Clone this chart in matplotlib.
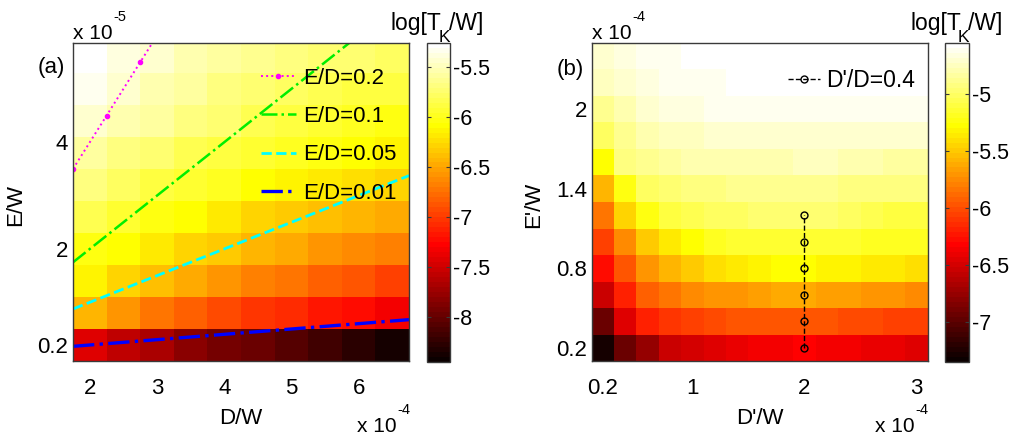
import numpy as np
import matplotlib.pyplot as plt

plt.rcParams['font.family'] = ['Liberation Sans', 'DejaVu Sans']

# ---- panel (a): D/W in units of 1e-4, E/W in units of 1e-5
d_a = [2.0, 2.5, 3.0, 3.5, 4.0, 4.5, 5.0, 5.5, 6.0, 6.5]
e_a = [0.2, 0.8, 1.4, 2.0, 2.6, 3.2, 3.8, 4.4, 5.0, 5.6]
# log[T_K/W], one row per E value (bottom to top)
logtk_a = [
    [-7.42, -7.58, -7.70, -7.82, -7.92, -8.00, -8.10, -8.20, -8.30, -8.38],
    [-6.45, -6.60, -6.72, -6.85, -6.95, -7.03, -7.10, -7.17, -7.25, -7.35],
    [-6.15, -6.27, -6.38, -6.48, -6.57, -6.66, -6.74, -6.82, -6.90, -6.97],
    [-6.05, -6.10, -6.18, -6.27, -6.35, -6.42, -6.50, -6.57, -6.63, -6.70],
    [-5.85, -5.95, -6.05, -6.10, -6.20, -6.27, -6.33, -6.38, -6.43, -6.48],
    [-5.70, -5.78, -5.86, -5.94, -6.00, -6.06, -6.12, -6.17, -6.22, -6.26],
    [-5.58, -5.66, -5.74, -5.82, -5.89, -5.95, -6.00, -6.05, -6.09, -6.12],
    [-5.45, -5.53, -5.60, -5.68, -5.75, -5.82, -5.88, -5.94, -5.99, -6.03],
    [-5.35, -5.45, -5.52, -5.60, -5.66, -5.72, -5.77, -5.82, -5.86, -5.90],
    [-5.26, -5.38, -5.45, -5.52, -5.58, -5.63, -5.67, -5.71, -5.74, -5.77],
]
clim_a = (-8.45, -5.26)
ratios = [0.2, 0.1, 0.05, 0.01]
d_line = [1.75, 2.25, 2.75, 3.25, 3.75, 4.25, 4.75, 5.25, 5.75, 6.25, 6.75]

# ---- panel (b): D'/W and E'/W in units of 1e-4
d_b = [0.2, 0.4, 0.6, 0.8, 1.0, 1.2, 1.4, 1.6, 1.8, 2.0, 2.2, 2.4, 2.6, 2.8, 3.0]
e_b = [0.2, 0.4, 0.6, 0.8, 1.0, 1.2, 1.4, 1.6, 1.8, 2.0, 2.2, 2.4]
logtk_b = [
    [-7.30, -6.94, -6.74, -6.56, -6.48, -6.45, -6.41, -6.38, -6.35, -6.34, -6.36, -6.38, -6.40, -6.42, -6.45],
    [-6.92, -6.45, -6.20, -6.10, -6.05, -6.00, -5.98, -5.96, -5.96, -5.96, -5.98, -6.00, -6.02, -6.04, -6.06],
    [-6.55, -6.17, -5.92, -5.82, -5.76, -5.72, -5.69, -5.66, -5.64, -5.63, -5.65, -5.67, -5.70, -5.72, -5.75],
    [-6.27, -5.95, -5.72, -5.58, -5.48, -5.42, -5.37, -5.33, -5.28, -5.27, -5.30, -5.33, -5.35, -5.38, -5.42],
    [-6.06, -5.75, -5.47, -5.35, -5.25, -5.20, -5.15, -5.13, -5.12, -5.12, -5.15, -5.15, -5.17, -5.18, -5.20],
    [-5.85, -5.45, -5.22, -5.10, -5.05, -5.02, -5.00, -4.98, -4.98, -4.98, -4.98, -5.03, -5.05, -5.08, -5.10],
    [-5.58, -5.22, -5.00, -4.95, -4.92, -4.90, -4.88, -4.86, -4.86, -4.86, -4.86, -4.90, -4.90, -4.90, -4.90],
    [-5.25, -4.93, -4.87, -4.83, -4.80, -4.78, -4.78, -4.77, -4.77, -4.76, -4.76, -4.78, -4.80, -4.82, -4.85],
    [-5.03, -4.88, -4.80, -4.76, -4.73, -4.70, -4.70, -4.70, -4.70, -4.70, -4.70, -4.70, -4.70, -4.71, -4.72],
    [-4.87, -4.78, -4.72, -4.68, -4.68, -4.62, -4.62, -4.62, -4.61, -4.61, -4.61, -4.60, -4.60, -4.60, -4.60],
    [-4.75, -4.70, -4.66, -4.60, -4.60, -4.60, -4.55, -4.55, -4.55, -4.55, -4.55, -4.55, -4.55, -4.55, -4.55],
    [-4.70, -4.68, -4.62, -4.62, -4.55, -4.55, -4.55, -4.55, -4.55, -4.55, -4.55, -4.55, -4.55, -4.55, -4.55],
]
clim_b = (-7.35, -4.55)
path_d = [2.0, 2.0, 2.0, 2.0, 2.0, 2.0]
path_e = [0.2, 0.4, 0.6, 0.8, 1.0, 1.2]

cmap = plt.get_cmap('hot', 64)
fs = 16
frame = '#3a3a3a'
W, H = 1014, 436

fig = plt.figure(figsize=(W / 100, H / 100), dpi=100)
ax_a = fig.add_axes([0.072, 0.172, 0.3314, 0.7294])
cax_a = fig.add_axes([0.4211, 0.170, 0.0227, 0.7317])
ax_b = fig.add_axes([0.5835, 0.172, 0.3314, 0.7294])
cax_b = fig.add_axes([0.932, 0.170, 0.0237, 0.7317])

mesh_a = ax_a.pcolormesh(d_a, e_a, np.array(logtk_a), cmap=cmap,
                         vmin=clim_a[0], vmax=clim_a[1], shading='nearest')
mesh_b = ax_b.pcolormesh(d_b, e_b, np.array(logtk_b), cmap=cmap,
                         vmin=clim_b[0], vmax=clim_b[1], shading='nearest')

# constant E/D lines
styles = [
    dict(color='#ff00ff', ls=':', lw=1.4, marker='.', ms=6),
    dict(color='#00ee00', ls='-.', lw=1.8),
    dict(color='#00ffff', ls='--', lw=2.0),
    dict(color='#0000ff', ls='-.', lw=2.4),
]
dl = np.array(d_line)
for r, st in zip(ratios, styles):
    ax_a.plot(dl, r * dl * 10, label=f'E/D={r:g}', **st)

ax_b.plot(path_d, path_e, color='k', ls='--', lw=1.0, marker='o', ms=5,
          mfc='none', mec='k', mew=1.0, label="D'/D=0.4")

ax_a.set_xlim(1.75, 6.75)
ax_a.set_ylim(-0.1, 5.86)
ax_a.set_xticks([2, 3, 4, 5, 6])
ax_a.set_xticklabels(['2', '3', '4', '5', '6'])
ax_a.set_yticks([0.2, 2, 4])
ax_a.set_yticklabels(['0.2', '2', '4'])

ax_b.set_xlim(0.1, 3.1)
ax_b.set_ylim(0.1, 2.5)
ax_b.set_xticks([0.2, 1, 2, 3])
ax_b.set_xticklabels(['0.2', '1', '2', '3'])
ax_b.set_yticks([0.2, 0.8, 1.4, 2])
ax_b.set_yticklabels(['0.2', '0.8', '1.4', '2'])

for ax in (ax_a, ax_b):
    ax.tick_params(axis='both', length=0, labelsize=fs)
    ax.tick_params(axis='x', pad=12)
    ax.tick_params(axis='y', pad=3.5)
    for lbl in ax.get_yticklabels():
        lbl.set_va('center_baseline')
    for sp in ax.spines.values():
        sp.set_color(frame)
        sp.set_linewidth(1.0)

ax_a.set_xlabel('D/W', fontsize=fs)
ax_a.set_ylabel('E/W', fontsize=fs)
ax_b.set_xlabel("D'/W", fontsize=fs)
ax_b.set_ylabel("E'/W", fontsize=fs)
for ax in (ax_a, ax_b):
    ax.xaxis.set_label_coords(0.5, -0.148)
    ax.yaxis.set_label_coords(-0.14, 0.49)

ax_a.legend(loc='upper right', bbox_to_anchor=(0.962, 0.922), frameon=False,
            fontsize=16, handlelength=1.6, handletextpad=0.3,
            labelspacing=0.78, borderpad=0, borderaxespad=0, numpoints=1)
ax_b.legend(loc='upper right', bbox_to_anchor=(0.962, 0.918), frameon=False,
            fontsize=16.5, handlelength=1.4, handletextpad=0.25,
            borderpad=0, borderaxespad=0, numpoints=1)

# colorbars
cb_a = fig.colorbar(mesh_a, cax=cax_a)
cb_a.set_ticks([-8, -7.5, -7, -6.5, -6, -5.5])
cb_a.set_ticklabels(['-8', '-7.5', '-7', '-6.5', '-6', '-5.5'])
cb_b = fig.colorbar(mesh_b, cax=cax_b)
cb_b.set_ticks([-7, -6.5, -6, -5.5, -5])
cb_b.set_ticklabels(['-7', '-6.5', '-6', '-5.5', '-5'])
for cb in (cb_a, cb_b):
    cb.ax.tick_params(direction='in', length=3, left=True, right=True,
                      labelsize=15.5, pad=2, color=frame)
    for lbl in cb.ax.get_yticklabels():
        lbl.set_va('center_baseline')
    cb.outline.set_edgecolor(frame)
    cb.outline.set_linewidth(1.0)


def cbar_title(x):
    # log[T_K/W] with the K dropped below the baseline
    fig.text(x / W, 1 - 30 / H, 'log[T', fontsize=16.5, va='baseline')
    fig.text((x + 48) / W, 1 - 42 / H, 'K', fontsize=12.5, va='baseline')
    fig.text((x + 58) / W, 1 - 30 / H, '/W]', fontsize=16.5, va='baseline')


cbar_title(391)
cbar_title(910)


# axis multipliers
def multiplier(x, y, exp):
    fig.text(x / W, 1 - y / H, 'x 10', fontsize=15, va='baseline')
    fig.text((x + 40) / W, 1 - (y - 18) / H, exp, fontsize=10.5,
             va='baseline')


multiplier(73, 39, '-5')
multiplier(357, 432, '-4')
multiplier(592, 39, '-4')
multiplier(875, 432, '-4')

fig.text(51 / W, 1 - 67 / H, '(a)', fontsize=fs, ha='center', va='center')
fig.text(570 / W, 1 - 70 / H, '(b)', fontsize=fs, ha='center', va='center')

fig.savefig('out.png', dpi=100)
